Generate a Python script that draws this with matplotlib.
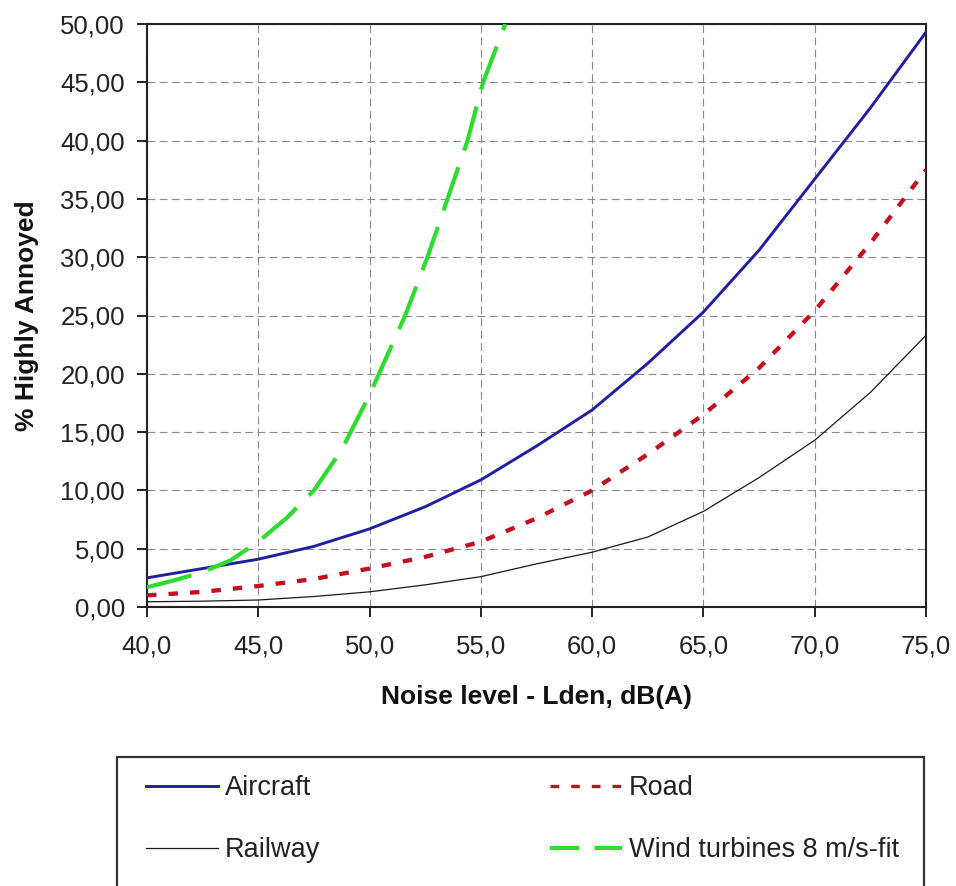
import matplotlib
matplotlib.use("Agg")
import matplotlib.pyplot as plt
from matplotlib.ticker import FuncFormatter, MultipleLocator
from matplotlib.lines import Line2D
from matplotlib.patches import Rectangle

plt.rcParams['font.family'] = ['Liberation Sans', 'DejaVu Sans']

# ---- data ----
noise_levels = [40.0, 42.5, 45.0, 47.5, 50.0, 52.5, 55.0, 57.5, 60.0, 62.5, 65.0, 67.5, 70.0, 72.5, 75.0]
aircraft = [2.5, 3.3, 4.1, 5.2, 6.7, 8.6, 10.9, 13.8, 16.9, 20.9, 25.3, 30.6, 36.7, 42.8, 49.3]
road = [1.0, 1.3, 1.8, 2.4, 3.3, 4.3, 5.6, 7.6, 10.0, 13.1, 16.5, 20.5, 25.4, 31.2, 37.5]
railway = [0.45, 0.5, 0.6, 0.9, 1.3, 1.9, 2.6, 3.7, 4.7, 6.0, 8.2, 11.1, 14.3, 18.4, 23.3]

wind_levels = [40.0, 41.25, 42.5, 43.75, 45.0, 46.25, 47.5, 48.75, 50.0, 51.6, 52.6, 53.5, 54.4, 55.1, 56.1]
wind = [1.7, 2.3, 3.0, 4.0, 5.6, 7.6, 10.0, 13.5, 18.2, 25.0, 30.0, 35.0, 40.0, 45.0, 50.0]

labels = ["Aircraft", "Road", "Railway", "Wind turbines 8 m/s-fit"]

W, H = 956, 886
fig = plt.figure(figsize=(W / 100, H / 100), dpi=100)
L, R, T, B = 147, 926, 24, 607
ax = fig.add_axes([L / W, 1 - B / H, (R - L) / W, (B - T) / H])

c_air = '#1f1fa0'
c_road = '#c4101e'
c_rail = '#1a1a1a'
c_wind = '#2edc2e'

ax.plot(noise_levels, aircraft, color=c_air, lw=2.1, zorder=4)
ax.plot(noise_levels, road, color=c_road, lw=3.1, dashes=(2.2, 2.8), zorder=4)
ax.plot(noise_levels, railway, color=c_rail, lw=0.9, zorder=4)
ax.plot(wind_levels, wind, color=c_wind, lw=3.0, dashes=(11, 4.2), zorder=5)

ax.set_xlim(40, 75)
ax.set_ylim(0, 50)
ax.xaxis.set_major_locator(MultipleLocator(5))
ax.yaxis.set_major_locator(MultipleLocator(5))
ax.xaxis.set_major_formatter(FuncFormatter(lambda v, p: f"{v:.1f}".replace('.', ',')))
ax.yaxis.set_major_formatter(FuncFormatter(lambda v, p: f"{v:.2f}".replace('.', ',')))

ax.grid(True, color='#8a8a8a', lw=0.8, dashes=(7, 4), zorder=1)
for s in ax.spines.values():
    s.set_color('#222222')
    s.set_linewidth(1.5)
ax.tick_params(axis='both', direction='out', length=7.5, width=1.4, color='#222222',
               labelsize=18.5, labelcolor='#222222')
ax.tick_params(axis='x', pad=12)
ax.tick_params(axis='y', pad=8.5)

ax.set_xlabel("Noise level - Lden, dB(A)", fontsize=19, fontweight='bold', color='#111111')
ax.set_ylabel("% Highly Annoyed", fontsize=19, fontweight='bold', color='#111111')
ax.xaxis.set_label_coords(0.5, (B - 685) / (B - T))
ax.yaxis.set_label_coords((39 - L) / (R - L), 0.5)

# legend frame
fig.patches.append(Rectangle((117 / W, -0.05), (924 - 117) / W, 0.05 + 1 - 757 / H,
                             transform=fig.transFigure, fill=False, ec='#333333', lw=1.6))

h_air = Line2D([], [], color=c_air, lw=2.1)
h_rail = Line2D([], [], color=c_rail, lw=0.9)
h_road = Line2D([], [], color=c_road, lw=2.4, dashes=(2.6, 3.6))
h_wind = Line2D([], [], color=c_wind, lw=3.0, dashes=(7, 3.7))

common = dict(loc='upper left', frameon=False, borderpad=0, borderaxespad=0,
              handlelength=2.66, handletextpad=0.26, labelspacing=1.33,
              prop={'size': 19.5})
leg1 = fig.legend([h_air, h_rail], [labels[0], labels[2]],
                  bbox_to_anchor=(146 / W, 1 - 775 / H), **common)
leg2 = fig.legend([h_road, h_wind], [labels[1], labels[3]],
                  bbox_to_anchor=(550 / W, 1 - 775 / H), **common)
for lg in (leg1, leg2):
    for t in lg.get_texts():
        t.set_color('#222222')

fig.savefig("out.png", dpi=100, facecolor='white')
